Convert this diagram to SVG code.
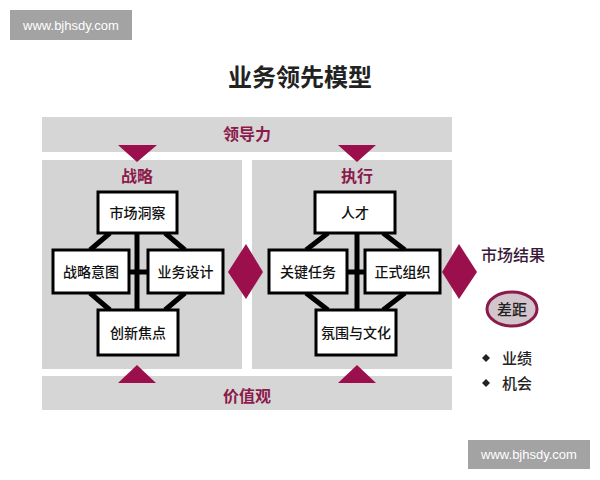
<svg xmlns="http://www.w3.org/2000/svg" width="600" height="480" viewBox="0 0 600 480">
<style>
text{font-family:"Noto Sans CJK SC","Liberation Sans",sans-serif;}
.band{fill:#d6d6d6}
.panel{fill:#d4d4d4}
.mk{fill:#9b0f4c}
.lbl{fill:#8b1a4b;font-size:16px;text-anchor:middle;font-weight:bold}
.box rect{fill:#fff;stroke:#000;stroke-width:3}
.box text{font-size:14px;text-anchor:middle;fill:#111;font-weight:500}
.ln{stroke:#000;stroke-width:5;fill:none}
</style>
<rect width="600" height="480" fill="#fff"/>
<g id="wm1"><rect x="10" y="10" width="122" height="30" fill="#a3a3a3"/><text x="71" y="30" font-size="13" fill="#fff" text-anchor="middle" style="font-family:'Liberation Sans',sans-serif">www.bjhsdy.com</text></g>
<g id="wm2"><rect x="468" y="440" width="122" height="29" fill="#a3a3a3"/><text x="529" y="459" font-size="13" fill="#fff" text-anchor="middle" style="font-family:'Liberation Sans',sans-serif">www.bjhsdy.com</text></g>
<text x="300" y="86" font-size="24" text-anchor="middle" fill="#222" font-weight="bold">业务领先模型</text>
<g id="leadership"><rect class="band" x="42" y="117" width="410" height="35"/><text class="lbl" x="247" y="140">领导力</text></g>
<g id="values"><rect class="band" x="42" y="376" width="410" height="34"/><text class="lbl" x="247" y="402">价值观</text></g>
<g id="strategy"><rect class="panel" x="42" y="160" width="200" height="209"/><text class="lbl" x="137" y="182">战略</text></g>
<g id="execution"><rect class="panel" x="252" y="160" width="200" height="209"/><text class="lbl" x="357" y="182">执行</text></g>
<g id="connectors">
<path class="ln" d="M137,233V310M129,272H148M110,233L90,250M165,233L185,250M90,293L110,310M185,293L165,310"/>
<path class="ln" d="M357,233V310M347,272H365M328,233L306,250M383,233L405,250M306,293L328,310M405,293L383,310"/>
<polygon class="mk" points="118,145 157,145 137,162"/>
<polygon class="mk" points="118,383 156,383 137,365"/>
<polygon class="mk" points="338,145 376,145 357,162"/>
<polygon class="mk" points="338,383 376,383 357,365"/>
<polygon class="mk" points="246,244 263,272 246,299 228,272"/>
<polygon class="mk" points="459,244 477,272 459,299 442,272"/>
</g>
<g id="n1" class="box"><rect x="98" y="192" width="79" height="41"/><text x="137.5" y="218">市场洞察</text></g>
<g id="n2" class="box"><rect x="53" y="250" width="76" height="43"/><text x="91" y="277">战略意图</text></g>
<g id="n3" class="box"><rect x="148" y="250" width="75" height="43"/><text x="185.5" y="277">业务设计</text></g>
<g id="n4" class="box"><rect x="98" y="310" width="80" height="45"/><text x="138" y="338">创新焦点</text></g>
<g id="n5" class="box"><rect x="315" y="192" width="80" height="41"/><text x="355" y="218">人才</text></g>
<g id="n6" class="box"><rect x="269" y="250" width="78" height="43"/><text x="308" y="277">关键任务</text></g>
<g id="n7" class="box"><rect x="365" y="250" width="75" height="43"/><text x="402.5" y="277">正式组织</text></g>
<g id="n8" class="box"><rect x="316" y="310" width="80" height="45"/><text x="356" y="338">氛围与文化</text></g>
<g id="result">
<text x="481" y="261" font-size="16" fill="#3a1a3a" font-weight="500">市场结果</text>
<ellipse cx="512" cy="309" rx="25" ry="17" fill="#d2c6cc" stroke="#8b1a4b" stroke-width="3"/>
<text x="512" y="315" font-size="15" text-anchor="middle" fill="#222" font-weight="500">差距</text>
<polygon points="486,354 490,358 486,362 482,358" fill="#222"/>
<polygon points="486,379 490,383 486,387 482,383" fill="#222"/>
<text x="502" y="364" font-size="15" fill="#222" font-weight="500">业绩</text>
<text x="502" y="389" font-size="15" fill="#222" font-weight="500">机会</text>
</g>
</svg>
